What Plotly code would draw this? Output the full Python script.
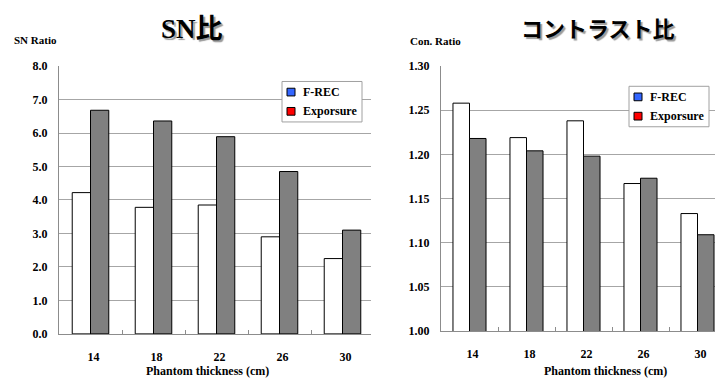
import plotly.graph_objects as go

categories = ["14", "18", "22", "26", "30"]
sn_frec = [4.22, 3.78, 3.85, 2.90, 2.25]
sn_expo = [6.68, 6.36, 5.89, 4.85, 3.10]
con_frec = [1.258, 1.219, 1.238, 1.167, 1.133]
con_expo = [1.218, 1.204, 1.198, 1.173, 1.109]
sn_ticks = [0, 1, 2, 3, 4, 5, 6, 7, 8]
con_ticks = [1.00, 1.05, 1.10, 1.15, 1.20, 1.25, 1.30]
legend_names = ["F-REC", "Exporsure"]
legend_colors = ["#3366ff", "#ff0000"]

W, H = 723, 383
OFF = 8  # page body margin: screen pixel = paper pixel + 8
SERIF = "Liberation Serif"
TITLE_FONT = "Liberation Serif, Noto Sans CJK JP"
GRID = "#a6a6a6"
AXIS = "#8c8c8c"

def px(x):
    return (x - OFF) / W

def py(y):
    return 1 - (y - OFF) / H

fig = go.Figure()

bar_line = dict(color="black", width=1)
fig.add_trace(go.Bar(x=categories, y=sn_frec, marker=dict(color="white", line=bar_line),
                     xaxis="x", yaxis="y", showlegend=False, name="F-REC"))
fig.add_trace(go.Bar(x=categories, y=sn_expo, marker=dict(color="#808080", line=bar_line),
                     xaxis="x", yaxis="y", showlegend=False, name="Exporsure"))
fig.add_trace(go.Bar(x=categories, y=con_frec, marker=dict(color="white", line=bar_line),
                     xaxis="x2", yaxis="y2", showlegend=False, name="F-REC"))
fig.add_trace(go.Bar(x=categories, y=con_expo, marker=dict(color="#808080", line=bar_line),
                     xaxis="x2", yaxis="y2", showlegend=False, name="Exporsure"))

tickfont = dict(family=SERIF, size=12, color="black", weight="bold")

common_x = dict(type="category", showgrid=False, showline=True, linecolor=AXIS, linewidth=1,
                ticks="inside", tickson="boundaries", ticklen=4, tickcolor=AXIS,
                tickfont=tickfont, ticklabelstandoff=12, ticklabelshift=3, zeroline=False)
common_y = dict(showgrid=True, gridcolor=GRID, gridwidth=1, showline=True, linecolor=AXIS,
                linewidth=1, ticks="", tickfont=tickfont, zeroline=False, ticklabelstandoff=8)

fig.update_layout(
    width=W, height=H,
    margin=dict(l=0, r=0, t=0, b=0),
    paper_bgcolor="white", plot_bgcolor="white",
    barmode="group", bargap=0.42, bargroupgap=0,
    showlegend=False,
    xaxis=dict(domain=[px(59), px(371)], range=[-0.5, -0.5 + 312 / 63], anchor="y", **common_x),
    yaxis=dict(domain=[py(339), py(61)], range=[0, 8], tickvals=sn_ticks,
               ticktext=[f"{v:.1f}" for v in sn_ticks], anchor="x", **common_y),
    xaxis2=dict(domain=[px(441), px(726)], range=[-0.5, -0.5 + 285 / 57], anchor="y2", **common_x),
    yaxis2=dict(domain=[py(336), py(61)], range=[1.0, 1.3], tickvals=con_ticks,
                ticktext=[f"{v:.2f}" for v in con_ticks], anchor="x2", **common_y),
)

annots = []
shapes = []
# titles with a soft shadow
for text, cx, cy, size in [("SN比", 192, 23, 27), ("コントラスト比", 598, 23, 22)]:
    annots.append(dict(text=text, x=px(cx), y=py(cy), xref="paper", yref="paper",
                       showarrow=False, xanchor="center", yanchor="middle",
                       font=dict(family=TITLE_FONT, size=size, color="black", weight="bold",
                                 shadow="2px 2px 1px #9a9a9a")))
# axis captions
annots.append(dict(text="SN Ratio", x=px(12), y=py(34), xref="paper", yref="paper",
                   showarrow=False, xanchor="left", yanchor="middle",
                   font=dict(family=SERIF, size=11, color="black", weight="bold")))
annots.append(dict(text="Con. Ratio", x=px(408), y=py(35), xref="paper", yref="paper",
                   showarrow=False, xanchor="left", yanchor="middle",
                   font=dict(family=SERIF, size=11, color="black", weight="bold")))
for cx in (207, 605):
    annots.append(dict(text="Phantom thickness (cm)", x=px(cx), y=py(378), xref="paper", yref="paper",
                       showarrow=False, xanchor="center", yanchor="middle",
                       font=dict(family=SERIF, size=12, color="black", weight="bold")))

# legends drawn as boxes (legend swatch colours differ from the bar fills)
for lx, ly in [(282, 77), (629, 82)]:
    shapes.append(dict(type="rect", xref="paper", yref="paper",
                       x0=px(lx), x1=px(lx + 80), y0=py(ly + 42), y1=py(ly),
                       line=dict(color="#a0a0a0", width=1), fillcolor="white", layer="above"))
    for i, (nm, col) in enumerate(zip(legend_names, legend_colors)):
        cy = ly + 11 + i * 20
        shapes.append(dict(type="rect", xref="paper", yref="paper",
                           x0=px(lx + 5), x1=px(lx + 13), y0=py(cy + 4), y1=py(cy - 4),
                           line=dict(color="black", width=1), fillcolor=col, layer="above"))
        annots.append(dict(text=nm, x=px(lx + 19), y=py(cy), xref="paper", yref="paper",
                           showarrow=False, xanchor="left", yanchor="middle",
                           font=dict(family=SERIF, size=12, color="black", weight="bold")))

fig.update_layout(annotations=annots, shapes=shapes)

fig.write_html("out.html")
